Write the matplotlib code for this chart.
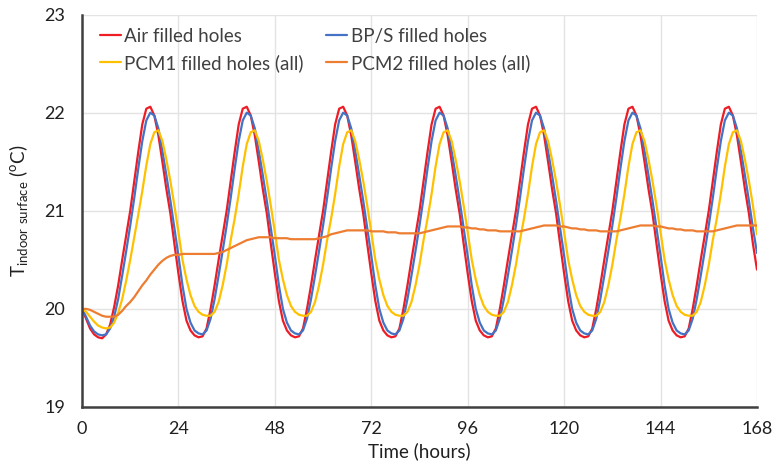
import matplotlib
matplotlib.use("Agg")
import matplotlib.pyplot as plt

# Hourly indoor surface temperatures (deg C), t = 0 ... 168 h
hours = list(range(0, 169))

air_filled = [
    20.00, 19.90, 19.80, 19.74, 19.71, 19.70, 19.74, 19.84, 20.02, 20.24, 20.50, 20.75,
    21.00, 21.30, 21.60, 21.88, 22.04, 22.06, 21.97, 21.77, 21.50, 21.22, 20.97, 20.66,
    20.36, 20.08, 19.88, 19.78, 19.73, 19.71, 19.72, 19.80, 20.00, 20.24, 20.50, 20.75,
    21.00, 21.30, 21.60, 21.88, 22.04, 22.06, 21.97, 21.77, 21.50, 21.22, 20.97, 20.66,
    20.36, 20.08, 19.88, 19.78, 19.73, 19.71, 19.72, 19.80, 20.00, 20.24, 20.50, 20.75,
    21.00, 21.30, 21.60, 21.88, 22.04, 22.06, 21.97, 21.77, 21.50, 21.22, 20.97, 20.66,
    20.36, 20.08, 19.88, 19.78, 19.73, 19.71, 19.72, 19.80, 20.00, 20.24, 20.50, 20.75,
    21.00, 21.30, 21.60, 21.88, 22.04, 22.06, 21.97, 21.77, 21.50, 21.22, 20.97, 20.66,
    20.36, 20.08, 19.88, 19.78, 19.73, 19.71, 19.72, 19.80, 20.00, 20.24, 20.50, 20.75,
    21.00, 21.30, 21.60, 21.88, 22.04, 22.06, 21.97, 21.77, 21.50, 21.22, 20.97, 20.66,
    20.36, 20.08, 19.88, 19.78, 19.73, 19.71, 19.72, 19.80, 20.00, 20.24, 20.50, 20.75,
    21.00, 21.30, 21.60, 21.88, 22.04, 22.06, 21.97, 21.77, 21.50, 21.22, 20.97, 20.66,
    20.36, 20.08, 19.88, 19.78, 19.73, 19.71, 19.72, 19.80, 20.00, 20.24, 20.50, 20.75,
    21.00, 21.30, 21.60, 21.88, 22.04, 22.06, 21.97, 21.77, 21.50, 21.22, 20.97, 20.66,
    20.40,
]

bps_filled = [
    20.00, 19.92, 19.83, 19.77, 19.74, 19.73, 19.74, 19.80, 19.92, 20.10, 20.34, 20.59,
    20.85, 21.13, 21.43, 21.71, 21.92, 22.00, 21.97, 21.84, 21.61, 21.36, 21.10, 20.82,
    20.54, 20.24, 20.00, 19.86, 19.78, 19.75, 19.74, 19.78, 19.90, 20.10, 20.34, 20.59,
    20.85, 21.13, 21.43, 21.71, 21.92, 22.00, 21.97, 21.84, 21.61, 21.36, 21.10, 20.82,
    20.54, 20.24, 20.00, 19.86, 19.78, 19.75, 19.74, 19.78, 19.90, 20.10, 20.34, 20.59,
    20.85, 21.13, 21.43, 21.71, 21.92, 22.00, 21.97, 21.84, 21.61, 21.36, 21.10, 20.82,
    20.54, 20.24, 20.00, 19.86, 19.78, 19.75, 19.74, 19.78, 19.90, 20.10, 20.34, 20.59,
    20.85, 21.13, 21.43, 21.71, 21.92, 22.00, 21.97, 21.84, 21.61, 21.36, 21.10, 20.82,
    20.54, 20.24, 20.00, 19.86, 19.78, 19.75, 19.74, 19.78, 19.90, 20.10, 20.34, 20.59,
    20.85, 21.13, 21.43, 21.71, 21.92, 22.00, 21.97, 21.84, 21.61, 21.36, 21.10, 20.82,
    20.54, 20.24, 20.00, 19.86, 19.78, 19.75, 19.74, 19.78, 19.90, 20.10, 20.34, 20.59,
    20.85, 21.13, 21.43, 21.71, 21.92, 22.00, 21.97, 21.84, 21.61, 21.36, 21.10, 20.82,
    20.54, 20.24, 20.00, 19.86, 19.78, 19.75, 19.74, 19.78, 19.90, 20.10, 20.34, 20.59,
    20.85, 21.13, 21.43, 21.71, 21.92, 22.00, 21.97, 21.84, 21.61, 21.36, 21.10, 20.82,
    20.57,
]

pcm1_filled = [
    20.00, 19.97, 19.92, 19.87, 19.83, 19.81, 19.80, 19.81, 19.86, 19.96, 20.10, 20.29,
    20.50, 20.73, 20.96, 21.20, 21.46, 21.68, 21.80, 21.82, 21.71, 21.52, 21.30, 21.05,
    20.78, 20.50, 20.30, 20.14, 20.03, 19.97, 19.94, 19.93, 19.93, 19.97, 20.07, 20.24,
    20.45, 20.70, 20.92, 21.17, 21.45, 21.68, 21.80, 21.82, 21.71, 21.52, 21.30, 21.05,
    20.78, 20.50, 20.30, 20.14, 20.03, 19.97, 19.94, 19.93, 19.93, 19.97, 20.07, 20.24,
    20.45, 20.70, 20.92, 21.17, 21.45, 21.68, 21.80, 21.82, 21.71, 21.52, 21.30, 21.05,
    20.78, 20.50, 20.30, 20.14, 20.03, 19.97, 19.94, 19.93, 19.93, 19.97, 20.07, 20.24,
    20.45, 20.70, 20.92, 21.17, 21.45, 21.68, 21.80, 21.82, 21.71, 21.52, 21.30, 21.05,
    20.78, 20.50, 20.30, 20.14, 20.03, 19.97, 19.94, 19.93, 19.93, 19.97, 20.07, 20.24,
    20.45, 20.70, 20.92, 21.17, 21.45, 21.68, 21.80, 21.82, 21.71, 21.52, 21.30, 21.05,
    20.78, 20.50, 20.30, 20.14, 20.03, 19.97, 19.94, 19.93, 19.93, 19.97, 20.07, 20.24,
    20.45, 20.70, 20.92, 21.17, 21.45, 21.68, 21.80, 21.82, 21.71, 21.52, 21.30, 21.05,
    20.78, 20.50, 20.30, 20.14, 20.03, 19.97, 19.94, 19.93, 19.93, 19.97, 20.07, 20.24,
    20.45, 20.70, 20.92, 21.17, 21.45, 21.68, 21.80, 21.82, 21.71, 21.52, 21.30, 21.05,
    20.76,
]

pcm2_filled = [
    20.00, 20.00, 19.99, 19.97, 19.95, 19.93, 19.92, 19.92, 19.92, 19.94, 19.98, 20.03,
    20.07, 20.12, 20.18, 20.24, 20.29, 20.35, 20.40, 20.45, 20.49, 20.52, 20.54, 20.55,
    20.55, 20.56, 20.56, 20.56, 20.56, 20.56, 20.56, 20.56, 20.56, 20.56, 20.57, 20.58,
    20.60, 20.62, 20.64, 20.66, 20.68, 20.70, 20.71, 20.72, 20.73, 20.73, 20.73, 20.73,
    20.72, 20.72, 20.72, 20.72, 20.71, 20.71, 20.71, 20.71, 20.71, 20.71, 20.71, 20.72,
    20.73, 20.74, 20.76, 20.77, 20.78, 20.79, 20.80, 20.80, 20.80, 20.80, 20.80, 20.80,
    20.79, 20.79, 20.79, 20.79, 20.78, 20.78, 20.78, 20.77, 20.77, 20.77, 20.77, 20.77,
    20.77, 20.78, 20.79, 20.80, 20.81, 20.82, 20.83, 20.84, 20.84, 20.84, 20.84, 20.83,
    20.83, 20.82, 20.82, 20.81, 20.81, 20.80, 20.80, 20.80, 20.79, 20.79, 20.79, 20.79,
    20.79, 20.79, 20.80, 20.81, 20.82, 20.83, 20.84, 20.85, 20.85, 20.85, 20.85, 20.84,
    20.84, 20.83, 20.82, 20.82, 20.81, 20.81, 20.80, 20.80, 20.80, 20.79, 20.79, 20.79,
    20.79, 20.79, 20.80, 20.81, 20.82, 20.83, 20.84, 20.85, 20.85, 20.85, 20.85, 20.84,
    20.84, 20.83, 20.82, 20.82, 20.81, 20.81, 20.80, 20.80, 20.80, 20.79, 20.79, 20.79,
    20.79, 20.79, 20.80, 20.81, 20.82, 20.83, 20.84, 20.85, 20.85, 20.85, 20.85, 20.85,
    20.85,
]

series_labels = ["Air filled holes", "BP/S filled holes",
                 "PCM1 filled holes (all)", "PCM2 filled holes (all)"]
series_colors = ["#EE1C25", "#4472C4", "#FFC000", "#ED7D31"]

x_ticks = [0, 24, 48, 72, 96, 120, 144, 168]
y_ticks = [19, 20, 21, 22, 23]

plt.rcParams["font.family"] = ["Lato", "DejaVu Sans"]

fig = plt.figure(figsize=(7.76, 4.76), dpi=100)
ax = fig.add_axes([0.1057, 0.145, 0.8698, 0.8245])

all_series = [air_filled, bps_filled, pcm1_filled, pcm2_filled]
handles = []
for values, label, color in zip(all_series, series_labels, series_colors):
    line, = ax.plot(hours, values, color=color, lw=1.6, label=label,
                    solid_capstyle="round", solid_joinstyle="round")
    handles.append(line)

ax.set_xlim(0, 168)
ax.set_ylim(19, 23)
ax.set_xticks(x_ticks)
ax.set_yticks(y_ticks)
ax.grid(True, color="#E3E3E3", lw=1.0)
ax.set_axisbelow(True)

for side in ["top", "right"]:
    ax.spines[side].set_visible(False)
for side in ["left", "bottom"]:
    ax.spines[side].set_color("#404040")
    ax.spines[side].set_linewidth(1.8)

ax.tick_params(axis="both", length=0, labelsize=13, colors="#202020", pad=10)
ax.tick_params(axis="y", pad=12)

ax.set_xlabel("Time (hours)", fontsize=13.5, color="#202020", labelpad=4)
ax.set_ylabel(r"T$_{\mathregular{indoor\ surface}}$ ($^{\mathregular{o}}$C)",
              fontsize=13.5, color="#202020", labelpad=10)

# two-column legend filled row by row: Air, BP/S / PCM1, PCM2
order = [0, 2, 1, 3]
leg = ax.legend([handles[i] for i in order], [series_labels[i] for i in order],
                ncol=2, loc="upper left", bbox_to_anchor=(0.01, 0.995),
                frameon=False, fontsize=13.5, handlelength=1.1, handletextpad=0.2,
                columnspacing=1.2, labelspacing=0.5, borderaxespad=0.2)
for t in leg.get_texts():
    t.set_color("#404040")

fig.savefig("out.png", dpi=100, facecolor="white")
